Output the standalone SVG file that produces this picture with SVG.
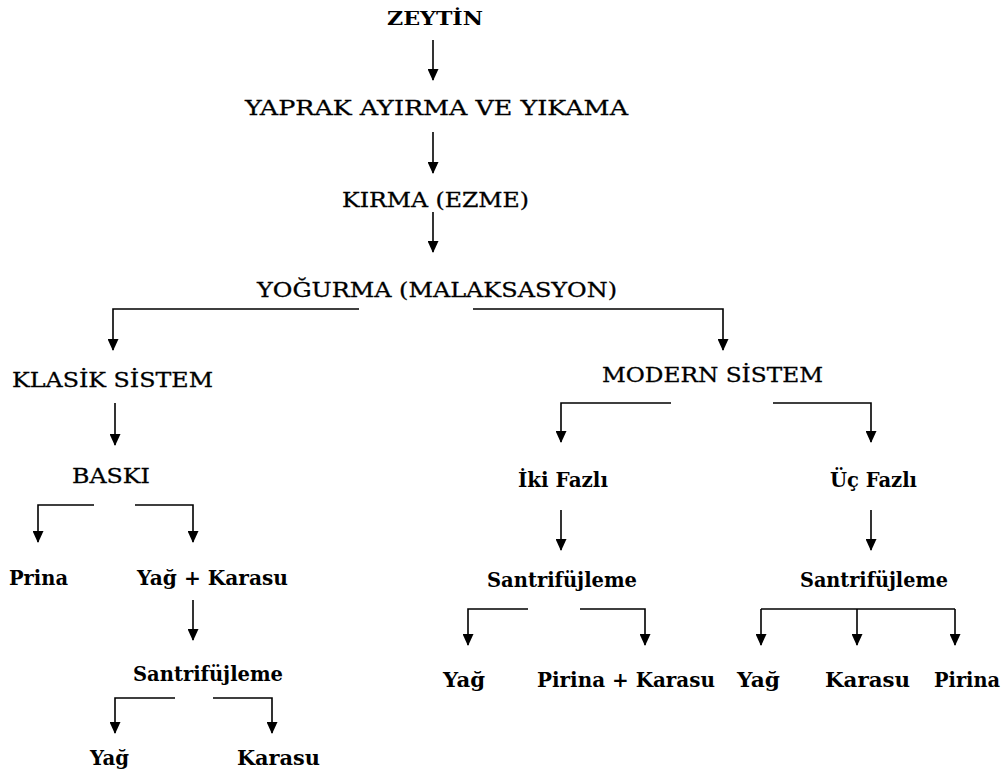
<svg xmlns="http://www.w3.org/2000/svg" width="1006" height="778" viewBox="0 0 1006 778">
<defs>
<marker id="ah" viewBox="0 0 12 11" refX="11" refY="5.5" markerWidth="12" markerHeight="11" markerUnits="userSpaceOnUse" orient="auto">
<path d="M0,0 L12,5.5 L0,11 z" fill="#000"/>
</marker>
<style>
.u{font-family:"DejaVu Serif","Liberation Serif",serif;font-size:21px;fill:#000;stroke:#000;stroke-width:0.3}
.b{font-family:"DejaVu Serif","Liberation Serif",serif;font-size:20px;font-weight:bold;fill:#000}
.z{font-family:"DejaVu Serif","Liberation Serif",serif;font-size:19px;font-weight:bold;fill:#000}
.c{fill:none;stroke:#000;stroke-width:1.6;marker-end:url(#ah)}
.n{fill:none;stroke:#000;stroke-width:1.6}
</style>
</defs>
<rect width="1006" height="778" fill="#fff"/>
<g id="connectors">
<path class="c" d="M433,40 V80"/>
<path class="c" d="M433,132 V173"/>
<path class="c" d="M433,212 V252"/>
<path class="c" d="M359,309 H113 V350"/>
<path class="c" d="M473,309 H723 V350"/>
<path class="c" d="M115,403 V445"/>
<path class="c" d="M671,403 H561 V442"/>
<path class="c" d="M773,403 H871 V442"/>
<path class="c" d="M94,505 H38 V542"/>
<path class="c" d="M135,505 H193 V542"/>
<path class="c" d="M193,600 V640"/>
<path class="c" d="M561,510 V550"/>
<path class="c" d="M871,510 V550"/>
<path class="c" d="M175,698 H115 V733"/>
<path class="c" d="M213,698 H272 V733"/>
<path class="c" d="M528,609 H468 V645"/>
<path class="c" d="M580,609 H645 V645"/>
<path class="n" d="M761,609 H955"/>
<path class="c" d="M761,609 V645"/>
<path class="c" d="M857,609 V645"/>
<path class="c" d="M955,609 V645"/>
</g>
<g id="n-zeytin"><text class="z" x="387" y="25" textLength="96" lengthAdjust="spacingAndGlyphs">ZEYTİN</text></g>
<g id="n-yaprak"><text class="u" x="245" y="115" textLength="383" lengthAdjust="spacingAndGlyphs">YAPRAK AYIRMA VE YIKAMA</text></g>
<g id="n-kirma"><text class="u" x="342" y="207" textLength="187" lengthAdjust="spacingAndGlyphs">KIRMA (EZME)</text></g>
<g id="n-yogurma"><text class="u" x="257" y="297" textLength="360" lengthAdjust="spacingAndGlyphs">YOĞURMA (MALAKSASYON)</text></g>
<g id="n-klasik"><text class="u" x="12" y="387" textLength="201" lengthAdjust="spacingAndGlyphs">KLASİK SİSTEM</text></g>
<g id="n-modern"><text class="u" x="602" y="382" textLength="221" lengthAdjust="spacingAndGlyphs">MODERN SİSTEM</text></g>
<g id="n-baski"><text class="u" x="72" y="483" textLength="78" lengthAdjust="spacingAndGlyphs">BASKI</text></g>
<g id="n-prina"><text class="b" x="9" y="585" textLength="59" lengthAdjust="spacingAndGlyphs">Prina</text></g>
<g id="n-yagkarasu"><text class="b" x="137" y="585" textLength="151" lengthAdjust="spacingAndGlyphs">Yağ + Karasu</text></g>
<g id="n-santri1"><text class="b" x="133" y="681" textLength="150" lengthAdjust="spacingAndGlyphs">Santrifüjleme</text></g>
<g id="n-yag1"><text class="b" x="90" y="765" textLength="39" lengthAdjust="spacingAndGlyphs">Yağ</text></g>
<g id="n-karasu1"><text class="b" x="237" y="765" textLength="83" lengthAdjust="spacingAndGlyphs">Karasu</text></g>
<g id="n-iki"><text class="b" x="518" y="487" textLength="90" lengthAdjust="spacingAndGlyphs">İki Fazlı</text></g>
<g id="n-uc"><text class="b" x="830" y="487" textLength="87" lengthAdjust="spacingAndGlyphs">Üç Fazlı</text></g>
<g id="n-santri2"><text class="b" x="487" y="587" textLength="150" lengthAdjust="spacingAndGlyphs">Santrifüjleme</text></g>
<g id="n-santri3"><text class="b" x="800" y="587" textLength="148" lengthAdjust="spacingAndGlyphs">Santrifüjleme</text></g>
<g id="n-yag2"><text class="b" x="443" y="687" textLength="42" lengthAdjust="spacingAndGlyphs">Yağ</text></g>
<g id="n-pirinakarasu"><text class="b" x="537" y="687" textLength="178" lengthAdjust="spacingAndGlyphs">Pirina + Karasu</text></g>
<g id="n-yag3"><text class="b" x="737" y="687" textLength="43" lengthAdjust="spacingAndGlyphs">Yağ</text></g>
<g id="n-karasu2"><text class="b" x="825" y="687" textLength="85" lengthAdjust="spacingAndGlyphs">Karasu</text></g>
<g id="n-pirina"><text class="b" x="934" y="687" textLength="66" lengthAdjust="spacingAndGlyphs">Pirina</text></g>
</svg>
